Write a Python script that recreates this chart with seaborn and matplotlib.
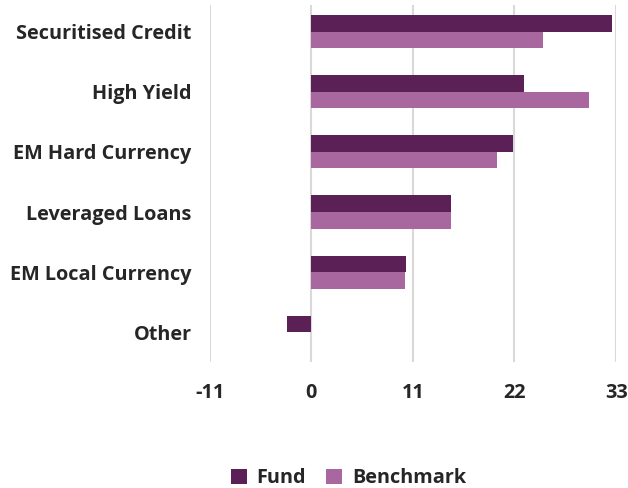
import matplotlib

matplotlib.use("Agg")

import matplotlib.pyplot as plt
import pandas as pd
import seaborn as sns

categories = ["Securitised Credit", "High Yield", "EM Hard Currency",
              "Leveraged Loans", "EM Local Currency", "Other"]
fund = [32.6, 23.0, 21.8, 15.1, 10.3, -2.6]
benchmark = [25.1, 30.1, 20.1, 15.1, 10.1, 0.0]
x_ticks = [-11, 0, 11, 22, 33]

df = pd.DataFrame({
    "category": categories * 2,
    "value": fund + benchmark,
    "series": ["Fund"] * len(categories) + ["Benchmark"] * len(categories),
})

sns.set_theme(style="white")
plt.rcParams["font.family"] = ["Open Sans", "DejaVu Sans"]
FS = 14.3

fig = plt.figure(figsize=(6.28, 4.88), dpi=100)
ax = fig.add_axes([0.334, 0.258, 0.647, 0.732])

sns.barplot(data=df, x="value", y="category", hue="series", order=categories,
            hue_order=["Fund", "Benchmark"],
            palette={"Fund": "#5b2157", "Benchmark": "#a8679e"},
            width=0.55, saturation=1, linewidth=0, ax=ax, legend=True)

ax.set_xlim(-11, 33)
ax.set_ylim(5.5, -0.45)
ax.set_xticks(x_ticks)
ax.set_xticklabels([str(t) for t in x_ticks])
ax.grid(axis="x", color="#d9d9d9", linewidth=1.5)
ax.set_axisbelow(True)
for s in ax.spines.values():
    s.set_visible(False)
ax.set_xlabel("")
ax.set_ylabel("")
ax.tick_params(axis="x", length=0, pad=15, labelsize=FS)
ax.tick_params(axis="y", length=0, pad=13, labelsize=FS)
for lbl in ax.get_xticklabels() + ax.get_yticklabels():
    lbl.set_fontweight("bold")

ax.legend(loc="center", bbox_to_anchor=(0.555, 0.02), bbox_transform=fig.transFigure,
          ncol=2, frameon=False, prop={"weight": "bold", "size": FS},
          handlelength=0.8, handleheight=0.8, columnspacing=1.0, handletextpad=0.5)

fig.savefig("out.png", dpi=100)
